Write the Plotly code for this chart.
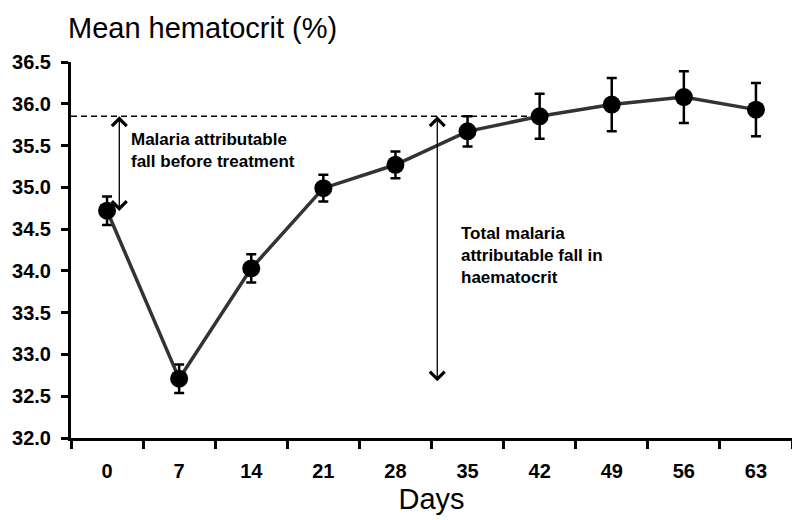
import plotly.graph_objects as go

days = ["0", "7", "14", "21", "28", "35", "42", "49", "56", "63"]
hematocrit = [34.72, 32.71, 34.03, 34.99, 35.27, 35.67, 35.85, 35.99, 36.08, 35.93]
sem = [0.17, 0.17, 0.17, 0.16, 0.16, 0.18, 0.27, 0.32, 0.31, 0.32]

baseline_level = 35.85
pre_treatment_low = 34.70
nadir_low = 32.66

y_ticks = [32.0, 32.5, 33.0, 33.5, 34.0, 34.5, 35.0, 35.5, 36.0, 36.5]

fig = go.Figure()

fig.add_trace(go.Scatter(
    x=days, y=hematocrit,
    mode="lines+markers",
    line=dict(color="#333333", width=3.5),
    marker=dict(color="black", size=18),
    error_y=dict(type="data", array=sem, visible=True, color="black",
                 thickness=2.5, width=5),
    showlegend=False,
))

# dashed reference line from axis to day 42
fig.add_shape(type="line", xref="x", yref="y",
              x0=-0.5, x1=6, y0=baseline_level, y1=baseline_level,
              line=dict(color="black", width=1.5, dash="6px,4px"))

arrow_common = dict(xref="x", yref="y", axref="x", ayref="y", text="",
                    showarrow=True, arrowhead=4, arrowside="end+start",
                    arrowsize=2.2, arrowwidth=1.3, arrowcolor="black",
                    standoff=0, startstandoff=0)
fig.add_annotation(x=0.17, y=baseline_level, ax=0.17, ay=pre_treatment_low, **arrow_common)
fig.add_annotation(x=4.58, y=baseline_level, ax=4.58, ay=nadir_low, **arrow_common)

label_font = dict(family="Arial", size=17, color="black", weight="bold")
fig.add_annotation(x=0.3, y=35.44, xref="x", yref="y", xanchor="left", yanchor="middle",
                   align="left", showarrow=False, font=label_font,
                   text="Malaria attributable<br>fall before treatment")
fig.add_annotation(x=4.88, y=34.19, xref="x", yref="y", xanchor="left", yanchor="middle",
                   align="left", showarrow=False, font=label_font,
                   text="Total malaria<br>attributable fall in<br>haematocrit")

# y-axis title placed horizontally above the axis
fig.add_annotation(x=-5 / 721, y=1 + 34 / 376, xref="paper", yref="paper",
                   xanchor="left", yanchor="middle", showarrow=False,
                   text="Mean hematocrit (%)",
                   font=dict(family="Arial", size=29, color="black"))

tick_font = dict(family="Arial", size=20, color="black", weight="bold")

fig.update_layout(
    width=800, height=520,
    margin=dict(l=63, r=16, t=54, b=90, autoexpand=False),
    paper_bgcolor="white", plot_bgcolor="white",
    xaxis=dict(
        type="category", categoryorder="array", categoryarray=days,
        range=[-0.5, 9.5], tickson="boundaries", automargin=False,
        showline=True, linecolor="black", linewidth=3,
        ticks="outside", ticklen=8, tickwidth=2.5, tickcolor="black",
        ticklabelstandoff=13,
        showgrid=False, zeroline=False,
        tickfont=tick_font,
        title=dict(text="Days", font=dict(family="Arial", size=29, color="black"), standoff=8),
    ),
    yaxis=dict(
        range=[32.0, 36.5], tickvals=y_ticks, ticktext=[f"{v:.1f}" for v in y_ticks],
        automargin=False,
        showline=True, linecolor="black", linewidth=3,
        ticks="outside", ticklen=7, tickwidth=2.5, tickcolor="black",
        ticklabelstandoff=6,
        showgrid=False, zeroline=False,
        tickfont=tick_font,
    ),
)

fig.write_html("out.html")
